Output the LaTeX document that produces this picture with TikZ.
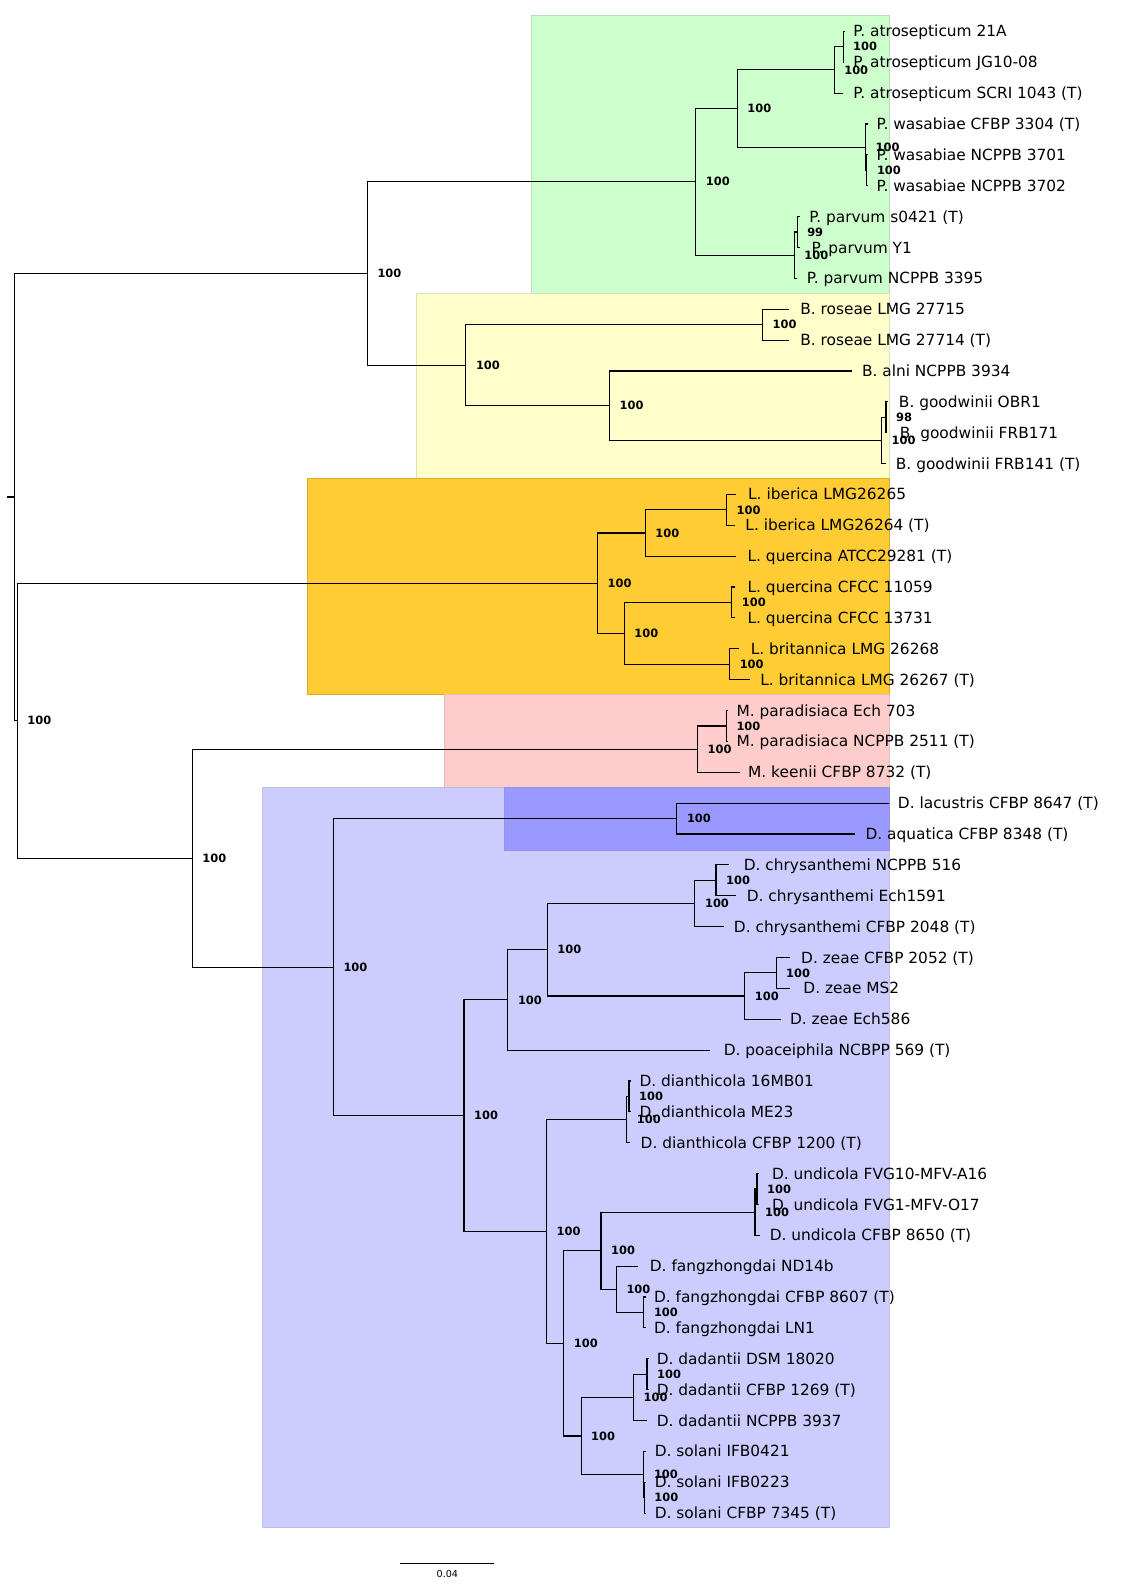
\documentclass[tikz,border=0pt]{standalone}
\usepackage{fontspec}
\newfontfamily\treefont{DejaVu Sans}
\newcommand\leafsz{\treefont\fontsize{15.2}{18}\selectfont}
\newcommand\bootsz{\treefont\bfseries\fontsize{11.3}{13}\selectfont}
\newcommand\scalesz{\treefont\fontsize{9.5}{11}\selectfont}
\definecolor{cgreen}{HTML}{CCFFCC}
\definecolor{cyellow}{HTML}{FFFFCC}
\definecolor{corange}{HTML}{FFCC33}
\definecolor{cpink}{HTML}{FFCCCC}
\definecolor{clblue}{HTML}{CCCCFF}
\definecolor{cdblue}{HTML}{9999FF}
\tikzset{
  br/.style={line width=1.1pt, black},
  leaf/.style={anchor=base west, inner sep=0pt, font=\leafsz, yshift=-5.5pt},
  bs/.style={anchor=base west, inner sep=0pt, font=\bootsz, xshift=9.8pt, yshift=-4.1pt},
  clade/.style={line width=0.8pt}
}
\begin{document}
\begin{tikzpicture}[x=1pt,y=-1pt]
\useasboundingbox (0,0) rectangle (1134,1568);
% clade boxes
\draw[clade, fill=cgreen, draw=cgreen!75!gray] (525,14.8) rectangle (878.5,289.8);
\draw[clade, fill=cyellow, draw=cyellow!75!gray] (411.5,289.8) rectangle (878.5,472.5);
\draw[clade, fill=corange, draw=corange!85!black] (303.3,472.5) rectangle (878.5,685.8);
\draw[clade, fill=cpink, draw=cpink!80!gray] (438.6,685.8) rectangle (878.5,778);
\draw[clade, fill=clblue, draw=clblue!80!gray] (259.5,778) rectangle (878.5,1509);
\draw[clade, fill=cdblue, draw=cdblue!80!gray] (498.5,778) rectangle (878.5,840);

% internal nodes
\coordinate (stub) at (6.6,491);
\coordinate (root) at (14.2,491);
\coordinate (A) at (363,270.2);
\coordinate (Pn) at (687.5,179.6);
\coordinate (P1) at (728.4,107.2);
\coordinate (atro) at (824.2,69.1);
\coordinate (atroI) at (833,46.25);
\coordinate (W) at (855.2,145.4);
\coordinate (WI) at (856.5,168.25);
\coordinate (Pv) at (784.7,252.1);
\coordinate (PvI) at (787.6,229.25);
\coordinate (Bn) at (460.3,360.8);
\coordinate (Ro) at (753.4,320.75);
\coordinate (AG) at (602.3,400.8);
\coordinate (Go) at (871,435.1);
\coordinate (GoI) at (875.4,412.25);
\coordinate (Bnode) at (17.1,712);
\coordinate (L) at (590.3,576.2);
\coordinate (L1) at (637.5,526.6);
\coordinate (Ib) at (717.8,503.75);
\coordinate (L2) at (616.8,625.75);
\coordinate (Qc) at (723.1,595.25);
\coordinate (Br) at (720.9,656.25);
\coordinate (C) at (190,847.8);
\coordinate (M) at (689.2,740.1);
\coordinate (MI) at (717.7,717.25);
\coordinate (C1) at (329.4,955.5);
\coordinate (DA) at (668.8,808.75);
\coordinate (C2) at (458.4,1102.3);
\coordinate (C3) at (501.8,987.9);
\coordinate (C4) at (540.8,938.35);
\coordinate (Ch) at (686.6,892.6);
\coordinate (ChI) at (707.4,869.75);
\coordinate (Ze) at (735.8,984.1);
\coordinate (ZeI) at (766.8,961.25);
\coordinate (C5) at (540,1216.7);
\coordinate (Di) at (619.2,1106.1);
\coordinate (DiI) at (621.5,1083.25);
\coordinate (C7) at (557.1,1327.25);
\coordinate (UF) at (593.8,1235.75);
\coordinate (Un) at (746,1197.6);
\coordinate (UnI) at (747.9,1174.75);
\coordinate (Fa) at (609,1273.9);
\coordinate (FaI) at (636.2,1296.75);
\coordinate (DS) at (574.1,1418.75);
\coordinate (Da) at (626,1380.6);
\coordinate (DaI) at (639.3,1357.75);
\coordinate (So) at (636.2,1456.9);
\coordinate (SoI) at (636.6,1479.75);

% leaves: index / tip x / text x / label
\foreach \i/\tipx/\txtx/\lab in {
 0/835/843/{P. atrosepticum 21A},
 1/834/843/{P. atrosepticum JG10-08},
 2/833/843/{P. atrosepticum SCRI 1043 (T)},
 3/857.5/866/{P. wasabiae CFBP 3304 (T)},
 4/857.5/866/{P. wasabiae NCPPB 3701},
 5/857.5/866/{P. wasabiae NCPPB 3702},
 6/790/799.5/{P. parvum s0421 (T)},
 7/790/801.8/{P. parvum Y1},
 8/787.6/797/{P. parvum NCPPB 3395},
 9/780/790.5/{B. roseae LMG 27715},
 10/780/790.5/{B. roseae LMG 27714 (T)},
 11/841.3/851.5/{B. alni NCPPB 3934},
 12/877/888/{B. goodwinii OBR1},
 13/876/889/{B. goodwinii FRB171},
 14/875.4/885/{B. goodwinii FRB141 (T)},
 15/727.6/739/{L. iberica LMG26265},
 16/726/736.3/{L. iberica LMG26264 (T)},
 17/727.6/738.5/{L. quercina ATCC29281 (T)},
 18/726/738.5/{L. quercina CFCC 11059},
 19/726/738.5/{L. quercina CFCC 13731},
 20/730/741.6/{L. britannica LMG 26268},
 21/740.7/751/{L. britannica LMG 26267 (T)},
 22/719/727.6/{M. paradisiaca Ech 703},
 23/719/727.6/{M. paradisiaca NCPPB 2511 (T)},
 24/731.6/739/{M. keenii CFBP 8732 (T)},
 25/878/887/{D. lacustris CFBP 8647 (T)},
 26/845/855/{D. aquatica CFBP 8348 (T)},
 27/720.6/734.7/{D. chrysanthemi NCPPB 516},
 28/727.5/737.7/{D. chrysanthemi Ech1591},
 29/715/725/{D. chrysanthemi CFBP 2048 (T)},
 30/781/791.4/{D. zeae CFBP 2052 (T)},
 31/781/793.6/{D. zeae MS2},
 32/771.7/780.4/{D. zeae Ech586},
 33/701.7/714.9/{D. poaceiphila NCBPP 569 (T)},
 34/623/631.7/{D. dianthicola 16MB01},
 35/623/631.7/{D. dianthicola ME23},
 36/622.3/632.8/{D. dianthicola CFBP 1200 (T)},
 37/750/762.6/{D. undicola FVG10-MFV-A16},
 38/750/762.6/{D. undicola FVG1-MFV-O17},
 39/751/760.4/{D. undicola CFBP 8650 (T)},
 40/630.5/641.9/{D. fangzhongdai ND14b},
 41/638/646/{D. fangzhongdai CFBP 8607 (T)},
 42/638/646/{D. fangzhongdai LN1},
 43/641/648.7/{D. dadantii DSM 18020},
 44/641/648.7/{D. dadantii CFBP 1269 (T)},
 45/639.3/648.7/{D. dadantii NCPPB 3937},
 46/638/646.8/{D. solani IFB0421},
 47/638/646.8/{D. solani IFB0223},
 48/638/646.8/{D. solani CFBP 7345 (T)}} {
  \coordinate (t\i) at (\tipx,{31+30.5*\i});
  \node[leaf] (n\i) at (\txtx,{31+30.5*\i}) {\lab};
}

% branches
\draw[br] (stub) -- (root);
\foreach \p/\c in {root/A, root/Bnode,
  A/Pn, A/Bn, Pn/P1, Pn/Pv, P1/atro, P1/W, atro/atroI, atro/t2, atroI/t0, atroI/t1,
  W/t3, W/WI, WI/t4, WI/t5, Pv/PvI, Pv/t8, PvI/t6, PvI/t7,
  Bn/Ro, Bn/AG, Ro/t9, Ro/t10, AG/t11, AG/Go, Go/GoI, Go/t14, GoI/t12, GoI/t13,
  Bnode/L, Bnode/C, L/L1, L/L2, L1/Ib, L1/t17, Ib/t15, Ib/t16, L2/Qc, L2/Br,
  Qc/t18, Qc/t19, Br/t20, Br/t21,
  C/M, C/C1, M/MI, M/t24, MI/t22, MI/t23,
  C1/DA, C1/C2, DA/t25, DA/t26, C2/C3, C2/C5, C3/C4, C3/t33, C4/Ch, C4/Ze,
  Ch/ChI, Ch/t29, ChI/t27, ChI/t28, Ze/ZeI, Ze/t32, ZeI/t30, ZeI/t31,
  C5/Di, C5/C7, Di/DiI, Di/t36, DiI/t34, DiI/t35,
  C7/UF, C7/DS, UF/Un, UF/Fa, Un/UnI, Un/t39, UnI/t37, UnI/t38,
  Fa/t40, Fa/FaI, FaI/t41, FaI/t42,
  DS/Da, DS/So, Da/DaI, Da/t45, DaI/t43, DaI/t44, So/t46, So/SoI, SoI/t47, SoI/t48}
  \draw[br] (\p) |- (\c);

% bootstrap values
\foreach \nd/\v in {A/100, Pn/100, P1/100, atro/100, atroI/100, W/100, WI/100,
  Pv/100, PvI/99, Bn/100, Ro/100, AG/100, Go/100, GoI/98, Bnode/100,
  L/100, L1/100, Ib/100, L2/100, Qc/100, Br/100, C/100, M/100, MI/100,
  C1/100, DA/100, C2/100, C3/100, C4/100, Ch/100, ChI/100, Ze/100, ZeI/100,
  C5/100, Di/100, DiI/100, C7/100, UF/100, Un/100, UnI/100, Fa/100, FaI/100,
  DS/100, Da/100, DaI/100, So/100, SoI/100}
  \node[bs] (b\nd) at (\nd) {\v};

% scale bar
\coordinate (sbl) at (395.5,1545);
\coordinate (sbr) at (488.5,1545);
\draw[line width=0.9pt] (sbl) -- (sbr);
\node[anchor=base, inner sep=0pt, font=\scalesz] (sblab) at (442,1558.5) {0.04};
\end{tikzpicture}
\end{document}
